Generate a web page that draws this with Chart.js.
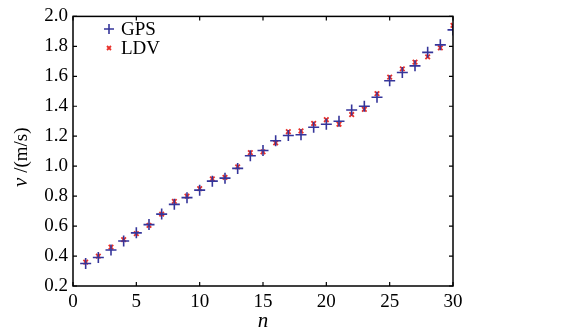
<!DOCTYPE html>
<html>
<head>
<meta charset="utf-8">
<script src="https://cdn.jsdelivr.net/npm/chart.js@4.4.1/dist/chart.umd.min.js"></script>
<style>
  html, body { margin: 0; padding: 0; background: #fff; }
  #wrap { width: 571px; height: 330px; }
</style>
</head>
<body>
<div id="wrap"><canvas id="chart" width="571" height="330"></canvas></div>
<script>
// sample index n
const nValues = [1, 2, 3, 4, 5, 6, 7, 8, 9, 10, 11, 12, 13, 14, 15, 16, 17, 18, 19, 20, 21, 22, 23, 24, 25, 26, 27, 28, 29, 30];
// velocity v (m/s)
const gpsValues = [0.35, 0.39, 0.44, 0.50, 0.555, 0.61, 0.68, 0.745, 0.79, 0.84, 0.90, 0.92, 0.985, 1.07, 1.105,
                   1.17, 1.205, 1.21, 1.26, 1.28, 1.30, 1.375, 1.40, 1.46, 1.57, 1.625, 1.67, 1.76, 1.81, 1.91];
const ldvValues = [0.36, 0.40, 0.46, 0.51, 0.55, 0.605, 0.68, 0.765, 0.80, 0.85, 0.915, 0.925, 0.995, 1.09, 1.095,
                   1.155, 1.23, 1.235, 1.285, 1.31, 1.28, 1.345, 1.38, 1.485, 1.595, 1.65, 1.695, 1.73, 1.79, 1.94];
const xTicks = [0, 5, 10, 15, 20, 25, 30];
const yTicks = [0.2, 0.4, 0.6, 0.8, 1.0, 1.2, 1.4, 1.6, 1.8, 2.0];

const FONT = '"Liberation Serif", serif';
const GPS_COLOR = "#35359a";
const LDV_COLOR = "#e8302a";

const toPoints = vals => nValues.map((n, i) => ({ x: n, y: vals[i] }));

// box, inward ticks, axis titles and legend
const framePlugin = {
    id: "frame",
    afterDraw(chart) {
        const { ctx, chartArea: a, scales } = chart;
        ctx.save();
        ctx.strokeStyle = "#000";
        ctx.lineWidth = 1.5;
        ctx.strokeRect(a.left, a.top, a.right - a.left, a.bottom - a.top);

        ctx.lineWidth = 1.2;
        const len = 4;
        ctx.beginPath();
        xTicks.forEach(v => {
            const px = scales.x.getPixelForValue(v);
            ctx.moveTo(px, a.bottom); ctx.lineTo(px, a.bottom - len);
            ctx.moveTo(px, a.top); ctx.lineTo(px, a.top + len);
        });
        yTicks.forEach(v => {
            const py = scales.y.getPixelForValue(v);
            ctx.moveTo(a.left, py); ctx.lineTo(a.left + len, py);
            ctx.moveTo(a.right, py); ctx.lineTo(a.right - len, py);
        });
        ctx.stroke();

        // x title
        ctx.fillStyle = "#000";
        ctx.font = "italic 21px " + FONT;
        ctx.textAlign = "center";
        ctx.textBaseline = "alphabetic";
        ctx.fillText("n", (a.left + a.right) / 2, 327);

        // y title (italic v + upright unit)
        ctx.save();
        ctx.translate(27, (a.top + a.bottom) / 2 + 6);
        ctx.rotate(-Math.PI / 2);
        ctx.textAlign = "left";
        ctx.font = "italic 21px " + FONT;
        const w1 = ctx.measureText("v").width;
        ctx.font = "19px " + FONT;
        const w2 = ctx.measureText(" /(m/s)").width;
        let x0 = -(w1 + w2) / 2;
        ctx.font = "italic 21px " + FONT;
        ctx.fillText("v", x0, 0);
        ctx.font = "19px " + FONT;
        ctx.fillText(" /(m/s)", x0 + w1, 0);
        ctx.restore();

        // legend
        ctx.font = "19px " + FONT;
        ctx.textAlign = "left";
        ctx.textBaseline = "middle";
        ctx.strokeStyle = GPS_COLOR;
        ctx.lineWidth = 1.6;
        ctx.beginPath();
        ctx.moveTo(104, 29); ctx.lineTo(114, 29);
        ctx.moveTo(109, 24); ctx.lineTo(109, 34);
        ctx.stroke();
        ctx.fillText("GPS", 121, 30);
        ctx.strokeStyle = LDV_COLOR;
        ctx.lineWidth = 1.8;
        ctx.beginPath();
        ctx.moveTo(107, 46); ctx.lineTo(111, 50);
        ctx.moveTo(111, 46); ctx.lineTo(107, 50);
        ctx.stroke();
        ctx.fillText("LDV", 121, 49);
        ctx.restore();
    }
};

new Chart(document.getElementById("chart").getContext("2d"), {
    type: "scatter",
    data: {
        datasets: [
            {
                label: "GPS",
                data: toPoints(gpsValues),
                pointStyle: "cross",
                pointRadius: 5.5,
                pointBorderWidth: 1.6,
                borderColor: GPS_COLOR,
                backgroundColor: GPS_COLOR
            },
            {
                label: "LDV",
                data: toPoints(ldvValues),
                pointStyle: "crossRot",
                pointRadius: 3.2,
                pointBorderWidth: 1.8,
                borderColor: LDV_COLOR,
                backgroundColor: LDV_COLOR
            }
        ]
    },
    options: {
        responsive: false,
        animation: false,
        layout: { padding: { top: 12, right: 118, left: 0, bottom: 0 } },
        scales: {
            x: {
                type: "linear",
                min: 0,
                max: 30,
                afterFit: s => { s.height = 44; },
                afterBuildTicks: s => { s.ticks = xTicks.map(v => ({ value: v })); },
                grid: { display: false, drawTicks: false },
                border: { display: false },
                ticks: { padding: 5, color: "#000", font: { family: FONT, size: 19 } }
            },
            y: {
                min: 0.2,
                max: 2.0,
                afterFit: s => { s.width = 73; },
                afterBuildTicks: s => { s.ticks = yTicks.map(v => ({ value: v })); },
                grid: { display: false, drawTicks: false },
                border: { display: false },
                ticks: {
                    padding: 5,
                    color: "#000",
                    font: { family: FONT, size: 19 },
                    callback: v => Number(v).toFixed(1)
                }
            }
        },
        plugins: {
            legend: { display: false },
            tooltip: { enabled: false }
        }
    },
    plugins: [framePlugin]
});
</script>
</body>
</html>
